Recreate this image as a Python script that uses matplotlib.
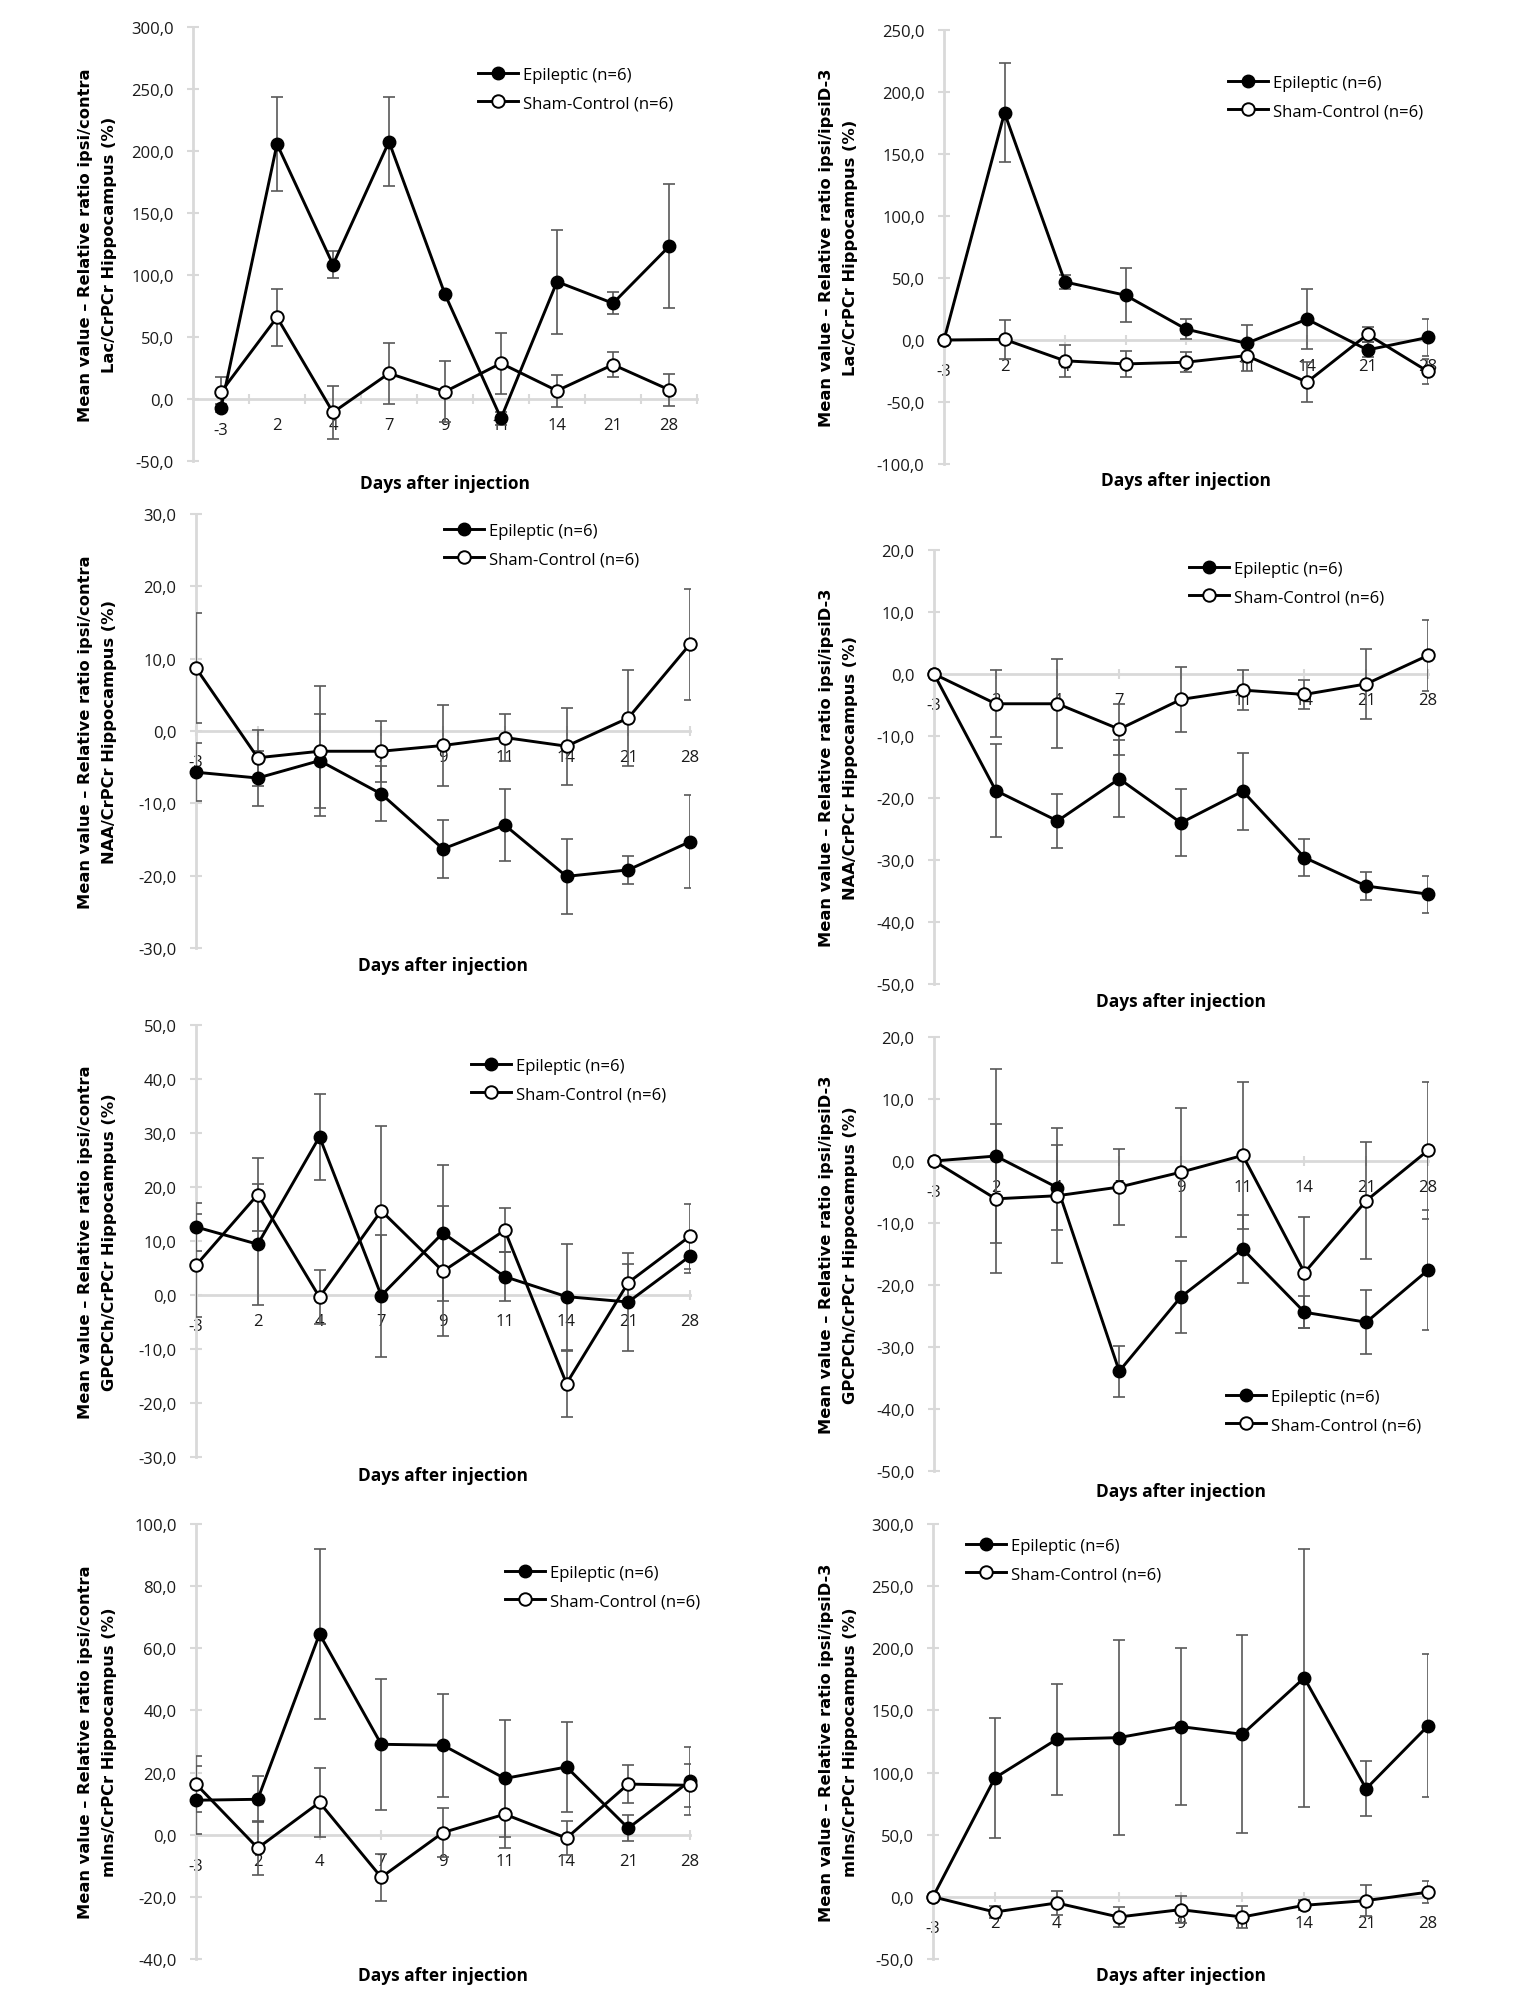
import numpy as np
import matplotlib
matplotlib.use('Agg')
import matplotlib.pyplot as plt
from matplotlib.lines import Line2D
from matplotlib.ticker import FuncFormatter, MultipleLocator
from matplotlib.transforms import ScaledTranslation

days = ['-3', '2', '4', '7', '9', '11', '14', '21', '28']

# Lac/CrPCr - ipsi/contra
lac_c_epi = [-7.3, 205.6, 108.3, 207.5, 84.4, -15.6, 94.6, 77.2, 123.0]
lac_c_epi_err = [3, 37.6, 11, 36, 2, 5, 42, 9, 50]
lac_c_sham = [5.6, 65.9, -10.8, 20.7, 5.9, 28.8, 6.7, 27.7, 7.5]
lac_c_sham_err = [12, 23, 21.5, 24.5, 24.5, 24.6, 13, 10, 13]

# Lac/CrPCr - ipsi/ipsiD-3
lac_d_epi = [0, 183.2, 46.8, 36.1, 8.8, -2.7, 16.8, -8.0, 2.1]
lac_d_epi_err = [0, 40, 5.5, 21.7, 8, 14.7, 24, 6, 14.7]
lac_d_sham = [0, 0.5, -16.8, -19.3, -17.9, -12.6, -34.0, 4.5, -25.4]
lac_d_sham_err = [0, 15.5, 13, 10.7, 8.3, 12, 16, 6, 10]

# NAA/CrPCr - ipsi/contra
naa_c_epi = [-5.7, -6.5, -4.1, -8.7, -16.3, -13.0, -20.1, -19.2, -15.3]
naa_c_epi_err = [4, 3.8, 6.5, 3.8, 4, 5, 5.2, 1.9, 6.4]
naa_c_sham = [8.7, -3.7, -2.8, -2.8, -2.0, -0.9, -2.1, 1.8, 12.0]
naa_c_sham_err = [7.6, 3.9, 9, 4.2, 5.6, 3.3, 5.3, 6.7, 7.7]

# NAA/CrPCr - ipsi/ipsiD-3
naa_d_epi = [0, -18.8, -23.7, -16.9, -24.0, -18.9, -29.6, -34.2, -35.5]
naa_d_epi_err = [0, 7.5, 4.4, 6.2, 5.4, 6.2, 3, 2.3, 3]
naa_d_sham = [0, -4.8, -4.8, -8.9, -4.1, -2.6, -3.3, -1.6, 3.0]
naa_d_sham_err = [0, 5.4, 7.2, 4.1, 5.2, 3.2, 2.3, 5.7, 5.7]

# GPCPCh/CrPCr - ipsi/contra
gpc_c_epi = [12.6, 9.4, 29.3, -0.1, 11.5, 3.4, -0.3, -1.3, 7.2]
gpc_c_epi_err = [4.4, 11.2, 8, 11.3, 12.6, 4.6, 9.8, 9, 3.2]
gpc_c_sham = [5.5, 18.6, -0.4, 15.6, 4.4, 12.0, -16.4, 2.3, 10.9]
gpc_c_sham_err = [9.5, 6.8, 5, 15.7, 12, 4.1, 6.1, 3.5, 6.0]

# GPCPCh/CrPCr - ipsi/ipsiD-3
gpc_d_epi = [0, 0.8, -4.3, -33.9, -21.9, -14.2, -24.4, -26.0, -17.6]
gpc_d_epi_err = [0, 14.1, 6.9, 4.1, 5.8, 5.5, 2.6, 5.2, 9.7]
gpc_d_sham = [0, -6.1, -5.6, -4.2, -1.8, 0.9, -18.0, -6.4, 1.7]
gpc_d_sham_err = [0, 12, 10.9, 6.2, 10.4, 11.8, 9, 9.4, 11]

# mIns/CrPCr - ipsi/contra
mins_c_epi = [11.1, 11.4, 64.6, 29.1, 28.8, 18.1, 21.8, 2.1, 17.3]
mins_c_epi_err = [11, 7.4, 27.3, 21.1, 16.6, 18.8, 14.4, 4.1, 11]
mins_c_sham = [16.3, -4.3, 10.4, -13.7, 0.7, 6.6, -1.1, 16.3, 15.9]
mins_c_sham_err = [9.1, 8.8, 11, 7.5, 8, 11, 5.4, 6.2, 7]

# mIns/CrPCr - ipsi/ipsiD-3
mins_d_epi = [0, 95.7, 126.8, 128.1, 137.0, 130.8, 176.2, 87.0, 137.6]
mins_d_epi_err = [0, 48.4, 44.5, 78.4, 63.1, 79.7, 104, 22, 57.6]
mins_d_sham = [0, -12.2, -4.9, -16.2, -10.3, -16.2, -6.8, -3.0, 3.8]
mins_d_sham_err = [0, 5, 9.5, 8, 11, 8.7, 4, 12.6, 9]

legend_labels = ['Epileptic (n=6)', 'Sham-Control (n=6)']
ylabel_top = {'c': 'Mean value \u2013 Relative ratio ipsi/contra',
              'd': 'Mean value \u2013 Relative ratio ipsi/ipsiD-3'}

plt.rcParams['font.family'] = ['Open Sans', 'DejaVu Sans']

W, H = 1521, 2006
fig = plt.figure(figsize=(W / 100, H / 100), dpi=100)

GRID = '#d9d9d9'
ERR = '#595959'
TXT = '#1a1a1a'
TICK_FS = 12


def comma(v, pos):
    if abs(v) < 1e-9:
        v = 0.0
    return f'{v:.1f}'.replace('.', ',')


def panel(box, ylim, step, epi, epi_err, sham, sham_err, kind, metab,
          lab_x, xlab_y, leg, between=False):
    x0, x1, yt, yb = box
    ax = fig.add_axes([x0 / W, 1 - yb / H, (x1 - x0) / W, (yb - yt) / H])
    x = np.arange(len(days))

    for vals, errs in ((epi, epi_err), (sham, sham_err)):
        v = np.array(vals, dtype=float)
        e = np.array(errs, dtype=float)
        m = e > 0
        ax.errorbar(x[m], v[m], yerr=e[m], fmt='none', ecolor=ERR,
                    elinewidth=1.2, capsize=4.3, capthick=1.2, zorder=3)
    ax.plot(x, epi, '-o', color='black', lw=2.1, ms=9, mfc='black',
            mec='black', clip_on=False, zorder=4)
    ax.plot(x, sham, '-o', color='black', lw=2.1, ms=9, mfc='white',
            mec='black', mew=1.4, clip_on=False, zorder=5)

    if between:
        ax.set_xlim(-0.5, len(days) - 0.5)
    else:
        ax.set_xlim(0, len(days) - 1)
    ax.set_ylim(*ylim)

    for s in ('top', 'right'):
        ax.spines[s].set_visible(False)
    ax.spines['left'].set_color(GRID)
    ax.spines['left'].set_linewidth(2)
    ax.spines['bottom'].set_position(('data', 0))
    ax.spines['bottom'].set_color(GRID)
    ax.spines['bottom'].set_linewidth(2)

    ax.yaxis.set_major_locator(MultipleLocator(step))
    ax.yaxis.set_major_formatter(FuncFormatter(comma))
    ax.tick_params(axis='y', direction='inout', length=8, width=1.5,
                   color=GRID, pad=10, labelsize=TICK_FS, labelcolor=TXT)
    ax.set_xticks(x, days)
    if between:
        ax.tick_params(axis='x', which='major', length=0, pad=13,
                       labelsize=TICK_FS, labelcolor=TXT)
        ax.set_xticks(np.arange(0.5, len(days), 1), minor=True)
        ax.tick_params(axis='x', which='minor', direction='inout', length=7,
                       width=1.5, color=GRID)
    else:
        ax.tick_params(axis='x', direction='inout', length=7, width=1.5,
                       color=GRID, pad=9.5, labelsize=TICK_FS, labelcolor=TXT)
    # the first category label sits a little lower, as in the original
    first = ax.xaxis.get_major_ticks()[0].label1
    first.set_transform(first.get_transform()
                        + ScaledTranslation(0, -0.05, fig.dpi_scale_trans))

    ycen = (yt + yb) / 2
    fig.text(lab_x / W, 1 - ycen / H,
             ylabel_top[kind] + '\n' + metab + '/CrPCr Hippocampus (%)',
             rotation=90, ha='center', va='center', multialignment='center',
             fontsize=11.7, fontweight='bold', family='DejaVu Sans',
             linespacing=1.75, color='black')
    fig.text((x0 + x1) / 2 / W, 1 - xlab_y / H, 'Days after injection',
             ha='center', va='center', fontsize=12.5, fontweight='bold',
             color='black')

    handles = [Line2D([], [], color='black', lw=2.1, marker='o', ms=9,
                      mfc='black', mec='black'),
               Line2D([], [], color='black', lw=2.1, marker='o', ms=9,
                      mfc='white', mec='black', mew=1.4)]
    ax.legend(handles, legend_labels, loc='center left',
              bbox_to_anchor=(leg[0] / W, 1 - leg[1] / H),
              bbox_transform=fig.transFigure, frameon=False, fontsize=12,
              handlelength=2.4, handletextpad=0.3, labelspacing=0.75,
              borderpad=0, borderaxespad=0)
    return ax


panel((193, 697, 28, 462), (-50, 300), 50, lac_c_epi, lac_c_epi_err,
      lac_c_sham, lac_c_sham_err, 'c', 'Lac', 98, 484, (478, 90), between=True)
panel((944, 1428, 31, 465), (-100, 250), 50, lac_d_epi, lac_d_epi_err,
      lac_d_sham, lac_d_sham_err, 'd', 'Lac', 839, 481, (1228, 98))
panel((196, 690, 515, 949), (-30, 30), 10, naa_c_epi, naa_c_epi_err,
      naa_c_sham, naa_c_sham_err, 'c', 'NAA', 98, 966, (444, 546))
panel((934, 1428, 551, 985), (-50, 20), 10, naa_d_epi, naa_d_epi_err,
      naa_d_sham, naa_d_sham_err, 'd', 'NAA', 839, 1002, (1189, 584))
panel((196, 690, 1026, 1458), (-30, 50), 10, gpc_c_epi, gpc_c_epi_err,
      gpc_c_sham, gpc_c_sham_err, 'c', 'GPCPCh', 98, 1476, (471, 1081))
panel((934, 1428, 1038, 1472), (-50, 20), 10, gpc_d_epi, gpc_d_epi_err,
      gpc_d_sham, gpc_d_sham_err, 'd', 'GPCPCh', 839, 1492, (1226, 1412))
panel((196, 690, 1525, 1960), (-40, 100), 20, mins_c_epi, mins_c_epi_err,
      mins_c_sham, mins_c_sham_err, 'c', 'mIns', 98, 1976, (505, 1588))
panel((933, 1428, 1525, 1960), (-50, 300), 50, mins_d_epi, mins_d_epi_err,
      mins_d_sham, mins_d_sham_err, 'd', 'mIns', 839, 1976, (966, 1561))

fig.savefig('out.png', dpi=100, facecolor='white')
